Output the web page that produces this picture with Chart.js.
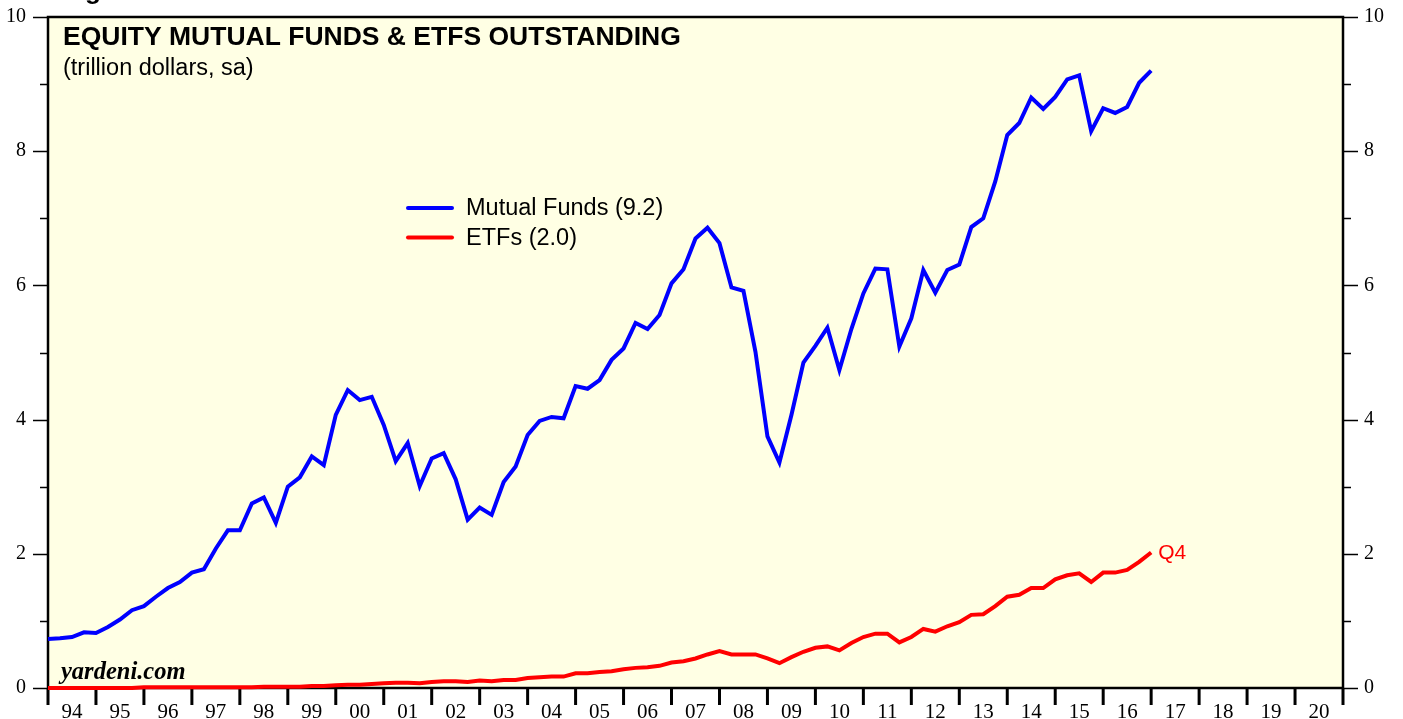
<!DOCTYPE html>
<html>
<head>
<meta charset="utf-8">
<script src="https://cdn.jsdelivr.net/npm/chart.js@4/dist/chart.umd.min.js"></script>
<style>
  html, body { margin: 0; padding: 0; background: #fff; }
  #wrap { width: 1403px; height: 719px; position: relative; }
</style>
</head>
<body>
<div id="wrap"><canvas id="chart" width="1403" height="719"></canvas></div>
<script>
// quarterly, end of 1993Q4 .. 2016Q4 (trillion dollars, sa)
const firstYear = 1994;
const yearLabels = ['94','95','96','97','98','99','00','01','02','03','04','05','06','07','08','09','10','11','12','13','14','15','16','17','18','19','20'];
const yTicks = [0, 2, 4, 6, 8, 10];

const mutualFunds = [
  0.73, 0.74, 0.76, 0.83, 0.82, 0.91, 1.02, 1.16, 1.22, 1.36,
  1.49, 1.58, 1.72, 1.77, 2.08, 2.35, 2.35, 2.75, 2.84, 2.46,
  3.00, 3.14, 3.45, 3.32, 4.07, 4.44, 4.29, 4.34, 3.92, 3.38,
  3.65, 3.01, 3.42, 3.50, 3.11, 2.51, 2.69, 2.58, 3.07, 3.30,
  3.77, 3.98, 4.04, 4.02, 4.50, 4.46, 4.59, 4.89, 5.06, 5.44,
  5.35, 5.56, 6.03, 6.24, 6.70, 6.86, 6.63, 5.97, 5.92, 5.01,
  3.75, 3.36, 4.07, 4.85, 5.10, 5.37, 4.74, 5.35, 5.88, 6.25,
  6.24, 5.09, 5.51, 6.23, 5.89, 6.23, 6.31, 6.87, 7.00, 7.55,
  8.24, 8.42, 8.80, 8.63, 8.81, 9.07, 9.13, 8.30, 8.64, 8.57,
  8.66, 9.02, 9.20
];
const etfs = [
  0.00, 0.00, 0.00, 0.00, 0.00, 0.00, 0.00, 0.00, 0.01, 0.01,
  0.01, 0.01, 0.01, 0.01, 0.01, 0.01, 0.01, 0.01, 0.02, 0.02,
  0.02, 0.02, 0.03, 0.03, 0.04, 0.05, 0.05, 0.06, 0.07, 0.08,
  0.08, 0.07, 0.09, 0.10, 0.10, 0.09, 0.11, 0.10, 0.12, 0.12,
  0.15, 0.16, 0.17, 0.17, 0.22, 0.22, 0.24, 0.25, 0.28, 0.30,
  0.31, 0.33, 0.38, 0.40, 0.44, 0.50, 0.55, 0.50, 0.50, 0.50,
  0.44, 0.37, 0.46, 0.54, 0.60, 0.62, 0.56, 0.67, 0.76, 0.81,
  0.81, 0.68, 0.76, 0.88, 0.84, 0.92, 0.98, 1.09, 1.10, 1.22,
  1.36, 1.39, 1.49, 1.49, 1.62, 1.68, 1.71, 1.58, 1.72, 1.72,
  1.76, 1.88, 2.02
];

const toPoints = arr => arr.map((v, i) => ({ x: firstYear + i / 4, y: v }));

const SERIF = '"Liberation Serif", "Times New Roman", serif';
const SANS = '"Liberation Sans", Arial, Helvetica, sans-serif';

const framePlugin = {
  id: 'frame',
  beforeDatasetsDraw(chart) {
    const { ctx, chartArea: a, scales } = chart;
    const x = scales.x, y = scales.y;
    ctx.save();
    ctx.fillStyle = '#FFFFE4';
    ctx.fillRect(a.left, a.top, a.right - a.left, a.bottom - a.top);

    ctx.strokeStyle = '#000';
    ctx.lineWidth = 2.5;
    ctx.strokeRect(a.left, a.top, a.right - a.left, a.bottom - a.top);

    // y ticks both sides, minor ticks at odd values
    ctx.lineWidth = 1.5;
    for (let v = 0; v <= 10; v++) {
      const py = Math.round(y.getPixelForValue(v)) + 0.5;
      const len = v % 2 === 0 ? 15 : 8;
      ctx.beginPath();
      ctx.moveTo(a.left - len, py); ctx.lineTo(a.left, py);
      ctx.moveTo(a.right, py); ctx.lineTo(a.right + len, py);
      ctx.stroke();
    }
    ctx.fillStyle = '#000';
    ctx.font = '20px ' + SERIF;
    ctx.textBaseline = 'middle';
    yTicks.forEach(v => {
      const py = y.getPixelForValue(v);
      ctx.textAlign = 'right';
      ctx.fillText(String(v), a.left - 22, py);
      ctx.textAlign = 'left';
      ctx.fillText(String(v), a.right + 21, py);
    });

    // x ticks at each year, labels between
    ctx.lineWidth = 3;
    for (let yr = firstYear; yr <= firstYear + yearLabels.length; yr++) {
      const px = x.getPixelForValue(yr);
      ctx.beginPath();
      ctx.moveTo(px, a.bottom); ctx.lineTo(px, a.bottom + 17);
      ctx.stroke();
    }
    ctx.font = '21px ' + SERIF;
    ctx.textAlign = 'center';
    ctx.textBaseline = 'alphabetic';
    yearLabels.forEach((lab, i) => {
      ctx.fillText(lab, x.getPixelForValue(firstYear + i + 0.5), 718);
    });
    ctx.restore();
  },
  afterDatasetsDraw(chart) {
    const { ctx, scales } = chart;
    const x = scales.x, y = scales.y;
    ctx.save();
    ctx.fillStyle = '#000';
    ctx.textAlign = 'left';
    ctx.textBaseline = 'alphabetic';

    ctx.font = 'bold 26px ' + SANS;
    ctx.fillText('Figure 5.', 62, -1);

    ctx.font = 'bold 26.5px ' + SANS;
    ctx.fillText('EQUITY MUTUAL FUNDS & ETFS OUTSTANDING', 63, 45);
    ctx.font = '23.5px ' + SANS;
    ctx.fillText('(trillion dollars, sa)', 63, 75);

    // legend
    chart.data.datasets.forEach((ds, i) => {
      const ly = 208 + i * 29.5;
      ctx.strokeStyle = ds.borderColor;
      ctx.lineWidth = 4;
      ctx.lineCap = 'round';
      ctx.beginPath();
      ctx.moveTo(408, ly); ctx.lineTo(452, ly);
      ctx.stroke();
      ctx.fillStyle = '#000';
      ctx.font = '23.5px ' + SANS;
      ctx.textBaseline = 'middle';
      ctx.fillText(ds.label, 466, ly + 1);
    });

    // last quarter tag
    const last = etfs.length - 1;
    ctx.fillStyle = '#FF0000';
    ctx.font = '21px ' + SANS;
    ctx.textBaseline = 'middle';
    ctx.fillText('Q4', x.getPixelForValue(firstYear + last / 4) + 7, y.getPixelForValue(etfs[last]) + 1);

    ctx.fillStyle = '#000';
    ctx.textBaseline = 'alphabetic';
    ctx.font = 'italic bold 24.5px ' + SERIF;
    ctx.fillText('yardeni.com', 61, 679);
    ctx.restore();
  }
};

new Chart(document.getElementById('chart').getContext('2d'), {
  type: 'line',
  data: {
    datasets: [
      {
        label: 'Mutual Funds (9.2)',
        data: toPoints(mutualFunds),
        borderColor: '#0000FF',
        borderWidth: 4,
        pointRadius: 0,
        tension: 0,
        clip: false
      },
      {
        label: 'ETFs (2.0)',
        data: toPoints(etfs),
        borderColor: '#FF0000',
        borderWidth: 4,
        pointRadius: 0,
        tension: 0,
        clip: false
      }
    ]
  },
  options: {
    responsive: false,
    animation: false,
    devicePixelRatio: 1,
    layout: { padding: { left: 48, right: 60, top: 17, bottom: 31 } },
    scales: {
      x: { type: 'linear', min: firstYear, max: firstYear + yearLabels.length, display: false },
      y: { min: 0, max: 10, display: false }
    },
    plugins: {
      legend: { display: false },
      tooltip: { enabled: false }
    }
  },
  plugins: [framePlugin]
});
</script>
</body>
</html>
